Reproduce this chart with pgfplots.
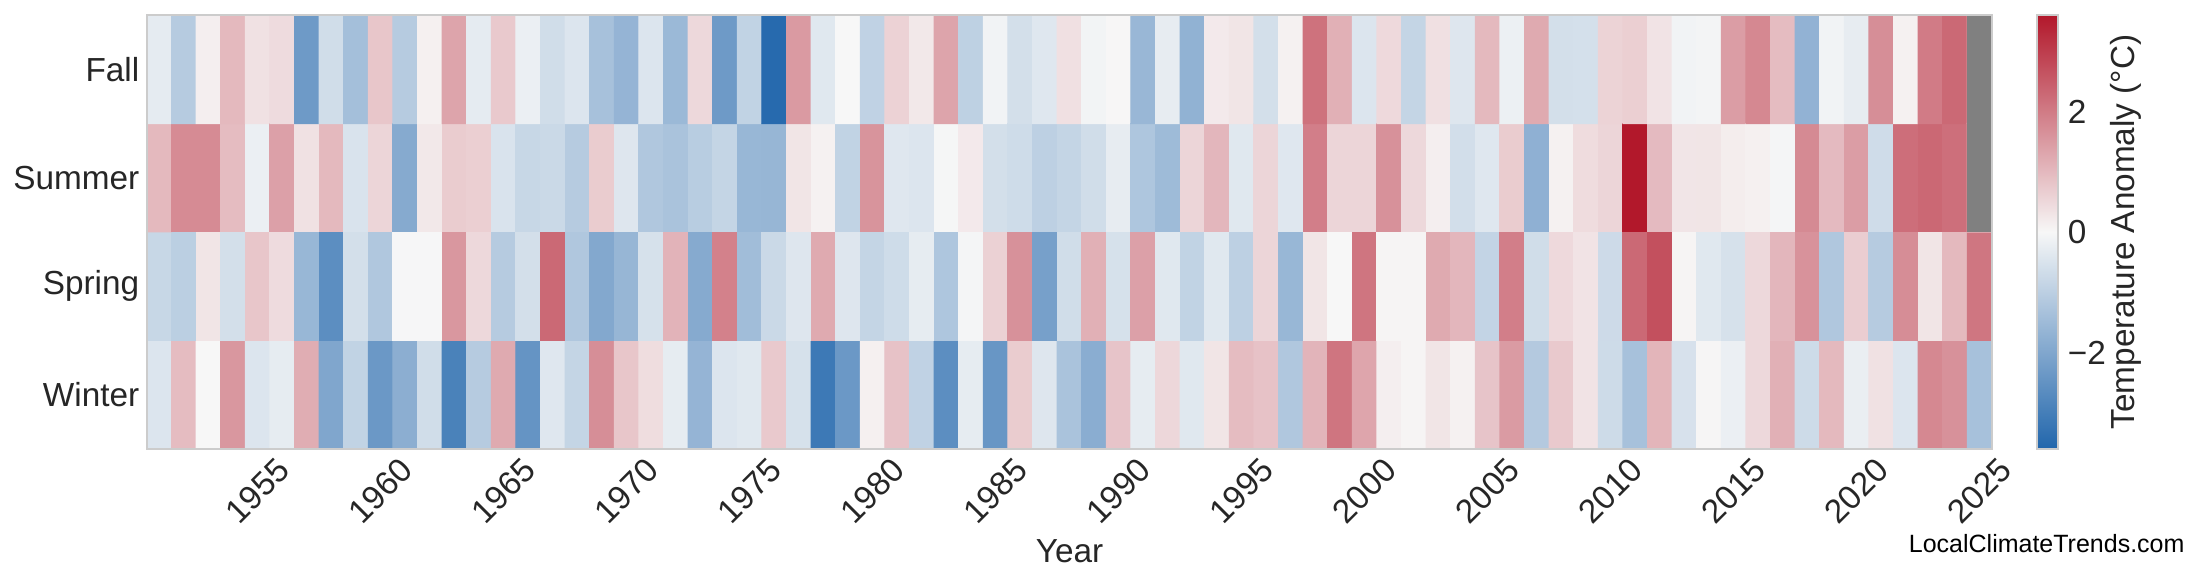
\documentclass[border=0pt]{standalone}
\usepackage{pgfplots}
\pgfplotsset{compat=1.18}
\usepackage{fontspec}
\setmainfont{Liberation Sans}
\definecolor{txt}{RGB}{38,38,38}
\definecolor{frame}{RGB}{204,204,204}
\definecolor{nancol}{RGB}{128,128,128}
\begin{document}
\begin{tikzpicture}
\path[use as bounding box] (-52.92pt,5.4pt) rectangle (739.08pt,-205.2pt);
\begin{axis}[
  name=main, at={(0,0)}, anchor=north west,
  scale only axis, width=664.2pt, height=156.2pt,
  xmin=1950.5, xmax=2025.5, ymin=-0.5, ymax=3.5,
  xtick={1955,1960,1965,1970,1975,1980,1985,1990,1995,2000,2005,2010,2015,2020,2025},
  xticklabels={1955,1960,1965,1970,1975,1980,1985,1990,1995,2000,2005,2010,2015,2020,2025},
  ytick={0,1,2,3}, yticklabels={Winter,Spring,Summer,Fall},
  major tick length=0pt,
  axis on top,
  axis line style={draw=frame, line width=0.7pt},
  /pgf/number format/assume math mode=true,
  tick label style={font=\fontsize{12}{14}\selectfont, text=txt},
  xticklabel style={rotate=45, anchor=center},
  xticklabel shift=15.1pt,
  yticklabel style={inner sep=2.6pt},
  xlabel={Year},
  xlabel style={at={(axis description cs:0.5,-0.235)}, anchor=center, font=\fontsize{12}{14}\selectfont, text=txt},
  colormap={tmap}{rgb255=(33,102,172) rgb255=(247,247,247) rgb255=(178,24,43)},
  point meta min=-3.6, point meta max=3.6,
  colorbar right,
  colorbar style={
    at={(parent axis.north east)}, anchor=north west, xshift=7.66pt,
    width=7.56pt,
    ytick={-2,0,2}, yticklabels={−2,0,2},
    major tick length=0pt,
    axis line style={draw=frame, line width=0.7pt},
    /pgf/number format/assume math mode=true,
    yticklabel style={font=\fontsize{12}{14}\selectfont, text=txt},
    ylabel={Temperature Anomaly (°C)},
    ylabel style={at={(axis description cs:4.24,0.5)}, anchor=center, font=\fontsize{12}{14}\selectfont, text=txt},
  },
]
\addplot[matrix plot*, mesh/cols=75, point meta=explicit, shader=flat corner] table[x=x, y=y, meta=c] {
x y c
1951 0 -0.45
1952 0 0.95
1953 0 0.0
1954 0 1.55
1955 0 -0.45
1956 0 -0.28
1957 0 1.2
1958 0 -2.0
1959 0 -0.9
1960 0 -2.35
1961 0 -1.8
1962 0 -0.65
1963 0 -2.91
1964 0 -1.1
1965 0 1.25
1966 0 -2.45
1967 0 -0.4
1968 0 -0.85
1969 0 1.7
1970 0 0.8
1971 0 0.42
1972 0 -0.28
1973 0 -1.65
1974 0 -0.45
1975 0 -0.38
1976 0 0.75
1977 0 -0.55
1978 0 -3.13
1979 0 -2.35
1980 0 0.12
1981 0 0.85
1982 0 -0.92
1983 0 -2.6
1984 0 -0.28
1985 0 -2.4
1986 0 0.7
1987 0 -0.42
1988 0 -1.3
1989 0 -1.83
1990 0 0.82
1991 0 -0.28
1992 0 0.52
1993 0 -0.38
1994 0 0.3
1995 0 0.95
1996 0 0.85
1997 0 -1.19
1998 0 1.08
1999 0 2.1
2000 0 1.32
2001 0 0.15
2002 0 0.05
2003 0 0.3
2004 0 0.1
2005 0 0.82
2006 0 1.49
2007 0 -1.13
2008 0 0.74
2009 0 0.32
2010 0 -0.7
2011 0 -1.35
2012 0 1.07
2013 0 -0.54
2014 0 0.03
2015 0 -0.2
2016 0 0.5
2017 0 1.15
2018 0 -0.7
2019 0 1.0
2020 0 -0.22
2021 0 0.35
2022 0 -0.45
2023 0 1.8
2024 0 1.65
2025 0 -1.35
1951 1 -0.8
1952 1 -1.0
1953 1 0.3
1954 1 -0.6
1955 1 0.8
1956 1 0.45
1957 1 -1.6
1958 1 -2.6
1959 1 -0.6
1960 1 -1.2
1961 1 -0.02
1962 1 -0.02
1963 1 1.55
1964 1 0.5
1965 1 -1.1
1966 1 -0.6
1967 1 2.3
1968 1 -1.2
1969 1 -1.95
1970 1 -1.62
1971 1 -0.55
1972 1 1.1
1973 1 -1.9
1974 1 1.9
1975 1 -1.45
1976 1 -0.75
1977 1 -0.42
1978 1 1.25
1979 1 -0.42
1980 1 -0.85
1981 1 -0.68
1982 1 -0.28
1983 1 -1.22
1984 1 -0.05
1985 1 0.62
1986 1 1.65
1987 1 -2.15
1988 1 -0.65
1989 1 1.15
1990 1 -0.55
1991 1 1.4
1992 1 -0.38
1993 1 -0.9
1994 1 -0.38
1995 1 -0.97
1996 1 0.55
1997 1 -1.6
1998 1 0.3
1999 1 0.0
2000 1 2.1
2001 1 0.05
2002 1 0.05
2003 1 1.25
2004 1 1.05
2005 1 -0.87
2006 1 1.95
2007 1 -0.65
2008 1 0.48
2009 1 0.32
2010 1 -0.71
2011 1 2.3
2012 1 2.7
2013 1 0.05
2014 1 -0.38
2015 1 -0.55
2016 1 0.5
2017 1 1.05
2018 1 1.63
2019 1 -1.2
2020 1 0.68
2021 1 -1.09
2022 1 1.71
2023 1 0.3
2024 1 1.0
2025 1 2.08
1951 2 1.0
1952 2 1.75
1953 2 1.75
1954 2 0.95
1955 2 -0.2
1956 2 1.4
1957 2 0.35
1958 2 1.0
1959 2 -0.5
1960 2 0.55
1961 2 -1.9
1962 2 0.25
1963 2 0.7
1964 2 0.65
1965 2 -0.5
1966 2 -0.8
1967 2 -0.75
1968 2 -1.1
1969 2 0.7
1970 2 -0.42
1971 2 -1.2
1972 2 -1.3
1973 2 -1.05
1974 2 -0.85
1975 2 -1.6
1976 2 -1.62
1977 2 0.3
1978 2 0.1
1979 2 -0.9
1980 2 1.6
1981 2 -0.4
1982 2 -0.45
1983 2 -0.03
1984 2 0.22
1985 2 -0.6
1986 2 -0.68
1987 2 -0.97
1988 2 -0.85
1989 2 -0.65
1990 2 -0.27
1991 2 -1.22
1992 2 -1.5
1993 2 0.55
1994 2 1.05
1995 2 -0.38
1996 2 0.55
1997 2 -0.4
1998 2 1.95
1999 2 0.55
2000 2 0.55
2001 2 1.65
2002 2 0.5
2003 2 0.15
2004 2 -0.62
2005 2 -0.4
2006 2 0.7
2007 2 -1.75
2008 2 0.1
2009 2 0.44
2010 2 0.55
2011 2 3.6
2012 2 0.98
2013 2 0.29
2014 2 0.3
2015 2 0.17
2016 2 0.12
2017 2 -0.05
2018 2 1.76
2019 2 0.98
2020 2 1.45
2021 2 -0.67
2022 2 2.21
2023 2 2.31
2024 2 2.2
2025 2 0.0
1951 3 -0.3
1952 3 -1.1
1953 3 0.15
1954 3 1.0
1955 3 0.35
1956 3 0.45
1957 3 -2.3
1958 3 -0.65
1959 3 -1.4
1960 3 0.8
1961 3 -1.1
1962 3 0.12
1963 3 1.35
1964 3 -0.3
1965 3 0.75
1966 3 -0.2
1967 3 -0.65
1968 3 -0.45
1969 3 -1.35
1970 3 -1.65
1971 3 -0.45
1972 3 -1.55
1973 3 0.5
1974 3 -2.3
1975 3 -0.9
1976 3 -3.5
1977 3 1.5
1978 3 -0.38
1979 3 0.0
1980 3 -0.92
1981 3 0.6
1982 3 0.25
1983 3 1.35
1984 3 -0.95
1985 3 -0.1
1986 3 -0.6
1987 3 -0.4
1988 3 0.38
1989 3 -0.08
1990 3 0.02
1991 3 -1.58
1992 3 -0.27
1993 3 -1.72
1994 3 0.22
1995 3 0.3
1996 3 -0.6
1997 3 0.1
1998 3 2.15
1999 3 1.15
2000 3 -0.45
2001 3 0.48
2002 3 -0.85
2003 3 0.38
2004 3 -0.42
2005 3 1.0
2006 3 -0.18
2007 3 1.25
2008 3 -0.6
2009 3 -0.58
2010 3 0.58
2011 3 0.65
2012 3 0.32
2013 3 -0.1
2014 3 -0.07
2015 3 1.45
2016 3 1.8
2017 3 0.95
2018 3 -1.7
2019 3 -0.1
2020 3 -0.27
2021 3 1.7
2022 3 0.1
2023 3 2.0
2024 3 2.3
2025 3 0.0
};
\addplot[draw=none, fill=nancol, forget plot] coordinates {(2024.5,1.5) (2025.5,1.5) (2025.5,3.5) (2024.5,3.5)} -- cycle;
\end{axis}
\node[anchor=east, font=\fontsize{9}{11}\selectfont, text=black, inner sep=0pt] at (733.68pt,-190.44pt) {LocalClimateTrends.com};
\end{tikzpicture}
\end{document}
